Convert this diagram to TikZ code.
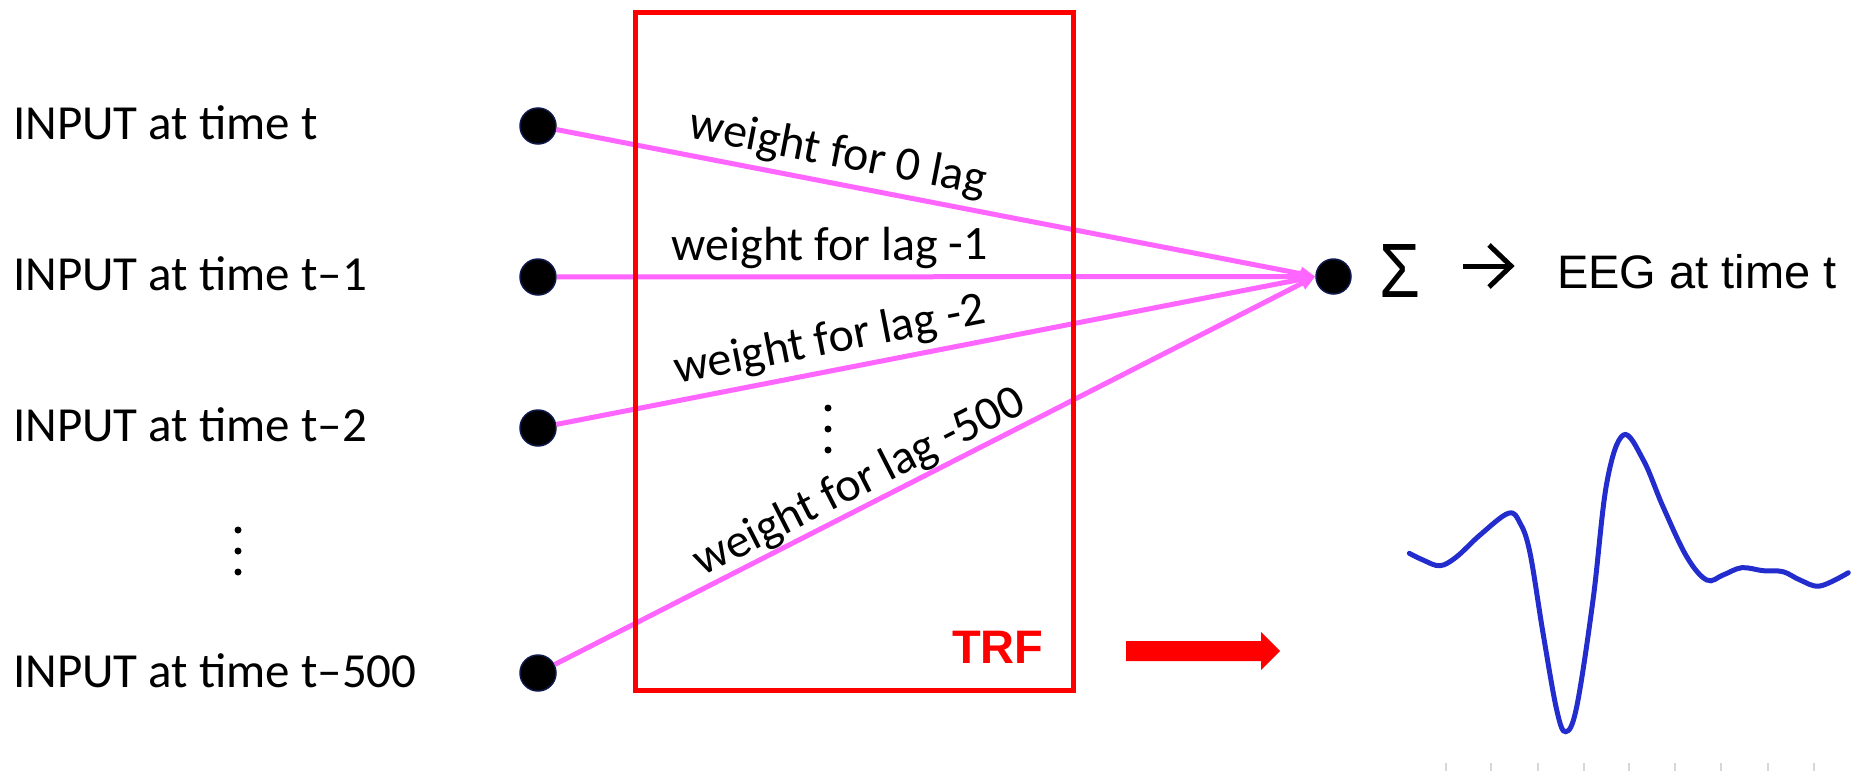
\documentclass[tikz,border=0pt]{standalone}
\usepackage{fontspec}
\setmainfont{Carlito}
\newfontfamily\arialfont{Liberation Sans}
\usetikzlibrary{arrows.meta}

\definecolor{wirepink}{RGB}{255,102,255}
\definecolor{trfred}{RGB}{255,0,0}
\definecolor{wavecol}{RGB}{35,45,205}
\definecolor{dotrim}{RGB}{15,25,75}
\definecolor{tickgray}{RGB}{215,215,215}

\begin{document}
\begin{tikzpicture}[x=1pt,y=-1pt,
  inlabel/.style={anchor=base west, inner sep=0pt, font=\fontsize{49}{59}\selectfont},
  tap/.style={circle, fill=black, draw=dotrim, line width=1.5pt, minimum size=36pt, inner sep=0pt},
  wire/.style={draw=wirepink, line width=5pt, -{Triangle[length=15pt,width=13pt]}},
  weightlab/.style={sloped, above, inner sep=6pt, font=\fontsize{48}{58}\selectfont},
  vdot/.style={fill=black},
  trfbox/.style={draw=trfred, line width=5pt, minimum width=438pt, minimum height=678pt, inner sep=0pt}
]
\useasboundingbox (0,0) rectangle (1859,771);

% input labels
\node[inlabel] (l1) at (13,139) {INPUT at time t};
\node[inlabel] (l2) at (13,290) {INPUT at time t–1};
\node[inlabel] (l3) at (13,441) {INPUT at time t–2};
\node[inlabel] (l4) at (13,687) {INPUT at time t–500};
\fill[vdot] (238,530) circle (3.5pt) (238,551) circle (3.5pt) (238,572) circle (3.5pt);

% input taps and summing point
\node[tap] (in1) at (538,126) {};
\node[tap] (in2) at (538,277) {};
\node[tap] (in3) at (538,428) {};
\node[tap] (in4) at (538,673) {};
\node[tap, minimum size=35pt] (sum) at (1333.5,276.5) {};

% weighted connections
\draw[wire] (in1) -- (sum.west) node[weightlab, pos=0.364] (w1) {weight for 0 lag};
\draw[wire] (in2) -- (sum.west) node[weightlab, pos=0.36] (w2) {weight for lag -1};
\draw[wire] (in3) -- (sum.west) node[weightlab, pos=0.368] (w3) {weight for lag -2};
\draw[wire] (in4) -- (sum.west) node[weightlab, pos=0.415, inner sep=0pt] (w4) {weight for lag -500};
\fill[vdot] (828,408) circle (3.5pt) (828,429) circle (3.5pt) (828,450) circle (3.5pt);

% TRF box
\node[trfbox] (box) at (854,351) {};
\node[anchor=base west, inner sep=0pt, text=trfred, font=\arialfont\bfseries\fontsize{47}{56}\selectfont] (trf) at (952,663) {TRF};

% sum symbol, arrow and output
\node[inner sep=0pt, font=\arialfont] (sigma) at (1400,270.5) {\resizebox{41pt}{53pt}{Σ}};
\coordinate (atail) at (1463,266);
\coordinate (ahead) at (1511,266);
\draw[line width=5pt] (atail) -- (ahead);
\draw[line width=5pt, line join=miter] ([shift={(-22,-21)}]ahead) -- (ahead) -- ([shift={(-22,21)}]ahead);
\node[anchor=base west, inner sep=0pt, font=\arialfont\fontsize{47}{56}\selectfont] (eeg) at (1557,288) {EEG at time t};

% block arrow towards the response curve
\coordinate (bt) at (1126,651);
\fill[trfred] (bt) ++(0,-10) -- ++(135,0) -- ++(0,-9) -- ++(19,19) -- ++(-19,19) -- ++(0,-9) -- ++(-135,0) -- cycle;

% response curve
\draw[wavecol, line width=5pt, line cap=round] plot[smooth, tension=0.6] coordinates {
 (1409.3,553.3) (1423,560) (1440,565.7) (1456.7,556.7) (1480,535) (1508.3,513.3)
 (1520,523) (1530,553) (1543,633) (1556.7,710) (1565.7,731.7) (1576.7,706.7)
 (1593,600) (1606.7,483.3) (1623.3,435) (1643.3,460) (1663,506.7) (1686.7,556.7)
 (1706.7,580) (1723,575) (1741.7,567.7) (1763,570.7) (1783,571.7) (1800,580)
 (1820,586) (1848.3,572.7)};
\foreach \tx in {1446,1491,1538,1584,1629,1675,1721,1768,1814}
  \draw[tickgray, line width=2pt] (\tx,763) -- (\tx,771);
\end{tikzpicture}
\end{document}
